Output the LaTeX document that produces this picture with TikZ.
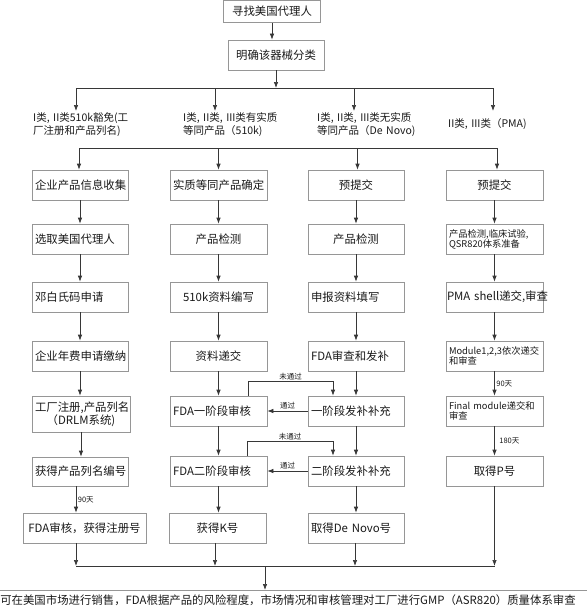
\documentclass[tikz,border=0pt]{standalone}
\usepackage{fontspec}
\setmainfont{Noto Sans CJK SC}
\usepackage{tikz}
\usetikzlibrary{arrows.meta}
\definecolor{boxgray}{RGB}{150,150,150}
\definecolor{linedark}{RGB}{55,55,55}
\definecolor{textdark}{RGB}{25,25,25}
\tikzset{>={Latex[length=6pt,width=4.5pt]}}
\tikzset{
  box/.style={draw=boxgray, line width=0.7pt, minimum height=30pt, inner xsep=3pt, inner ysep=2pt,
    text width=90pt, align=center, text=textdark, font=\fontsize{11.4}{13}\selectfont},
  lbox/.style={box, align=left},
  smallbox/.style={lbox, font=\fontsize{9.3}{10}\selectfont},
  cat/.style={anchor=north west, inner sep=0pt, minimum height=26pt, text width=120pt, align=left,
    text=textdark, font=\fontsize{10.5}{13}\selectfont},
  tag/.style={inner sep=1.5pt, text=textdark, font=\fontsize{7.5}{8}\selectfont},
  link/.style={draw=linedark, line width=0.7pt},
}

\begin{document}
\begin{tikzpicture}[x=1pt, y=-1pt]
  \useasboundingbox (0,0) rectangle (586,610);

  \node[box, minimum height=22pt, text width=91pt] (agent) at (272,11.5) {寻找美国代理人};
  \node[box] (classify) at (276,55) {明确该器械分类};
  \coordinate (hub) at (276,88);
  \draw[link,->] (agent) -- (agent |- classify.north);
  \draw[link,->] (classify) -- (hub);

  \coordinate (d1) at (76,88);
  \coordinate (d2) at (215,88);
  \coordinate (d3) at (354,88);
  \coordinate (d4) at (493,88);
  \draw[link] (d1) -- (d4);

  \node[cat] (cat1) at (33,111) {I类, II类510k豁免(工\\厂注册和产品列名)};
  \node[cat] (cat2) at (183,111) {I类, II类, III类有实质\\等同产品（510k)};
  \node[cat] (cat3) at (317,111) {I类, II类, III类无实质\\等同产品（De Novo)};
  \node[cat] (cat4) at (448,111) {II类, III类（PMA)};
  \foreach \d/\c in {d1/cat1, d2/cat2, d3/cat3, d4/cat4}
    \draw[link,->] (\d) -- (\d |- \c.north);

  % exempt column
  \node[box] (ex1) at (80,185) {企业产品信息收集};
  \node[lbox] (ex2) at (80,239) {选取美国代理人};
  \node[lbox] (ex3) at (80,297) {邓白氏码申请};
  \node[box] (ex4) at (80,356) {企业年费申请缴纳};
  \node[box, minimum height=36pt, text width=92pt] (ex5) at (81,414) {工厂注册,产品列名\\（DRLM系统)};
  \node[box, minimum height=29pt] (ex6) at (80,471.5) {获得产品列名编号};
  \node[box, text width=121pt, inner xsep=1pt] (ex7) at (84.5,528) {FDA审核，获得注册号};

  % 510k column
  \node[box, text width=91pt] (k1) at (218.5,185) {实质等同产品确定};
  \node[box, text width=91pt] (k2) at (218.5,239) {产品检测};
  \node[box, text width=91pt] (k3) at (218.5,297) {510k资料编写};
  \node[box, text width=91pt] (k4) at (218.5,356) {资料递交};
  \node[lbox, text width=91pt] (k5) at (218.5,411) {FDA一阶段审核};
  \node[lbox, text width=91pt] (k6) at (218.5,471) {FDA二阶段审核};
  \node[box, text width=91pt] (k7) at (217.5,528) {获得K号};

  % De Novo column
  \node[box] (dn1) at (356,185) {预提交};
  \node[box] (dn2) at (356,239) {产品检测};
  \node[lbox] (dn3) at (356,297) {申报资料填写};
  \node[lbox] (dn4) at (356,356) {FDA审查和发补};
  \node[lbox] (dn5) at (356,411) {一阶段发补补充};
  \node[lbox] (dn6) at (356,471) {二阶段发补补充};
  \node[lbox] (dn7) at (356,528) {取得De~Novo号};

  % PMA column
  \node[box, text width=91pt] (pma1) at (494.5,185) {预提交};
  \node[smallbox, text width=91pt] (pma2) at (494.5,239) {产品检测,临床试验,\\QSR820体系准备};
  \node[lbox, text width=95pt, inner xsep=1pt] (pma3) at (494.5,297) {\mbox{PMA shell递交,审查}};
  \node[smallbox, text width=91pt] (pma4) at (494.5,356) {Module1,2,3依次递交\\和审查};
  \node[smallbox, text width=91pt] (pma5) at (494.5,411) {\mbox{Final module递交和}\\审查};
  \node[box, text width=91pt] (pma6) at (494.5,471) {取得P号};

  \coordinate (t1) at (79,148);
  \coordinate (t2) at (218.5,148);
  \coordinate (t3) at (357.5,148);
  \coordinate (t4) at (497,148);
  \draw[link] (t1) -- (t4);
  \foreach \t/\b in {t1/ex1, t2/k1, t3/dn1, t4/pma1}
    \draw[link,->] (\t) -- (\t |- \b.north);

  \foreach \a/\b in {ex1/ex2, ex2/ex3, ex3/ex4, ex4/ex5, ex5/ex6,
                     k1/k2, k2/k3, k3/k4, k4/k5, k5/k6, k6/k7,
                     dn1/dn2, dn2/dn3, dn3/dn4, dn4/dn5, dn5/dn6, dn6/dn7,
                     pma1/pma2, pma2/pma3, pma3/pma4}
    \draw[link,->] (\a.south) -- (\a.south |- \b.north);
  \draw[link,->] ([xshift=-4pt]ex6.south) -- ([xshift=-4pt]ex6.south |- ex7.north)
    node[tag, midway, right] {90天};
  \draw[link,->] (pma4.south) -- (pma4.south |- pma5.north) node[tag, midway, right] {90天};
  \draw[link,->] (pma5.south) -- (pma5.south |- pma6.north) node[tag, midway, right=3pt] {180天};

  % review loops
  \draw[link,->] ([xshift=29.5pt]k5.north) -- ++(0pt,14pt) -| ([xshift=-23pt]dn5.north)
    node[tag, pos=0.25, above] {未通过};
  \draw[link,->] (dn5.west) -- (k5.east) node[tag, midway, above] {通过};
  \draw[link,->] ([xshift=28.5pt]k6.north) -- ++(0pt,14pt) -| ([xshift=-23pt]dn6.north)
    node[tag, pos=0.25, above] {未通过};
  \draw[link,->] (dn6.west) -- (k6.east) node[tag, midway, above] {通过};

  \node[draw=boxgray, line width=0.7pt, anchor=north, minimum width=626pt, inner ysep=4pt,
    text depth=15pt, text=textdark, font=\fontsize{11.4}{13}\selectfont] (note) at (288,590)
    {可在美国市场进行销售，FDA根据产品的风险程度，市场情况和审核管理对工厂进行GMP（ASR820）质量体系审查};

  \coordinate (b1) at (76,566);
  \coordinate (b2) at (215,566);
  \coordinate (b3) at (355,566);
  \coordinate (b4) at (495,566);
  \coordinate (bm) at (265,566);
  \draw[link] (b1) -- (b4);
  \foreach \b/\n in {b1/ex7, b2/k7, b3/dn7}
    \draw[link,->] (\b |- \n.south) -- (\b);
  \draw[link,->] (pma6.south) -- (pma6.south |- b4);
  \draw[link,->] (bm) -- (bm |- note.north);
\end{tikzpicture}
\end{document}
